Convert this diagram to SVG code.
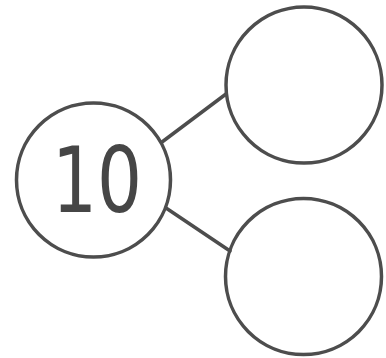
<svg xmlns="http://www.w3.org/2000/svg" width="386" height="358" viewBox="0 0 386 358">
<style>
.c{fill:none;stroke:#4d4d4d;stroke-width:3.5}
.l{stroke:#4d4d4d;stroke-width:3.5;stroke-linecap:round}
.t{font-family:"DejaVu Sans",sans-serif;font-size:90px;fill:#464646}
</style>
<rect width="386" height="358" fill="#fff"/>
<g id="connectors">
<line class="l" x1="162" y1="142" x2="226" y2="94"/>
<line class="l" x1="166" y1="208" x2="230" y2="251"/>
</g>
<g id="whole">
<circle class="c" cx="93.5" cy="180" r="77"/>
<text class="t" x="97" y="212" text-anchor="middle" textLength="90" lengthAdjust="spacingAndGlyphs">10</text>
</g>
<g id="part-top">
<circle class="c" cx="304" cy="85" r="78"/>
</g>
<g id="part-bottom">
<circle class="c" cx="303.5" cy="276.5" r="78"/>
</g>
</svg>
